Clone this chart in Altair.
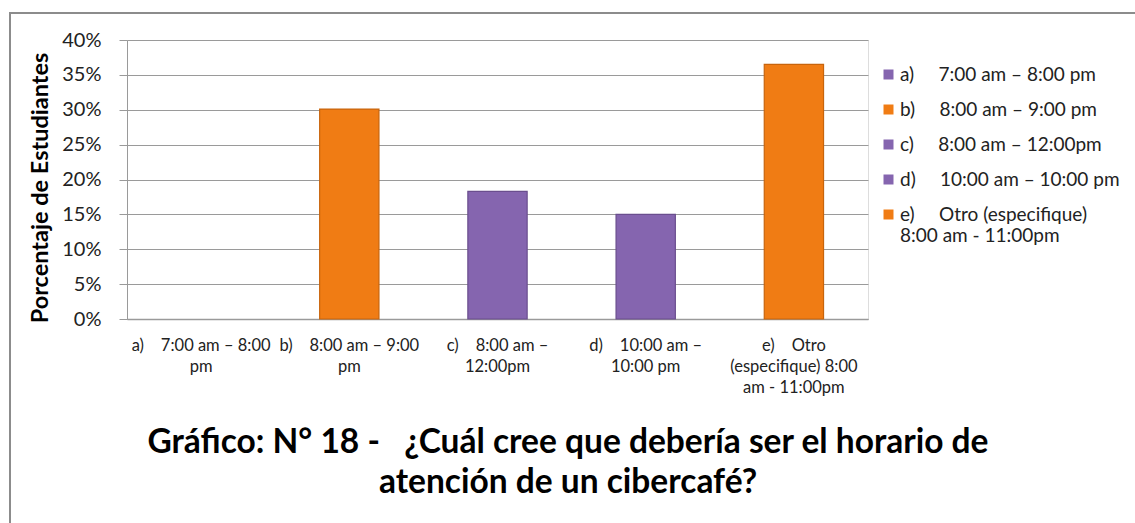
import altair as alt
import pandas as pd
import json

NB = "\u00a0"
keys = ["a", "b", "c", "d", "e"]
values = [0.0, 30.1, 18.3, 15.0, 36.5]
colors = ["#8565AF", "#F07C14", "#8565AF", "#8565AF", "#F07C14"]
edge_colors = ["#6A4E8E", "#C8640C", "#6A4E8E", "#6A4E8E", "#C8640C"]
axis_labels = [
    ["a)" + NB * 4 + "7:00 am – 8:00", "pm"],
    ["b)" + NB * 4 + "8:00 am – 9:00", "pm"],
    ["c)" + NB * 4 + "8:00 am –", "12:00pm"],
    ["d)" + NB * 4 + "10:00 am –", "10:00" + NB + "pm"],
    ["e)" + NB * 4 + "Otro", "(especifique) 8:00", "am - 11:00pm"],
]
legend_labels = [
    ["a)" + NB * 5 + "7:00 am – 8:00 pm"],
    ["b)" + NB * 5 + "8:00 am – 9:00 pm"],
    ["c)" + NB * 5 + "8:00 am – 12:00pm"],
    ["d)" + NB * 5 + "10:00 am – 10:00 pm"],
    ["e)" + NB * 5 + "Otro (especifique)", "8:00 am - 11:00pm"],
]
y_ticks = [0, 5, 10, 15, 20, 25, 30, 35, 40]
y_title = "Porcentaje de Estudiantes"
title_lines = ["Gráfico: N° 18 -" + NB * 3 + "¿Cuál cree que debería ser el horario de",
               "atención de un cibercafé?"]

df = pd.DataFrame({"key": keys, "value": values})

axis_map = json.dumps(dict(zip(keys, axis_labels)), ensure_ascii=False)
legend_map = json.dumps(dict(zip(keys, legend_labels)), ensure_ascii=False)

FONT = "Lato"
W, H = 741, 279
PL, PT = 127, 40

one = alt.Data(values=[{"k": 1}])

border = alt.Chart(one).mark_rect(
    fillOpacity=0, stroke="#8C8C8C", strokeWidth=2
).encode(
    x=alt.value(10 - PL), y=alt.value(13 - PT),
    x2=alt.value(1145 - PL), y2=alt.value(535 - PT)
)

title = alt.Chart(one).mark_text(
    font=FONT, fontSize=33.5, fontWeight="bold", color="#000",
    lineHeight=40, align="center", baseline="middle"
).encode(
    x=alt.value(568 - PL), y=alt.value(443 - PT), text=alt.value(title_lines)
)

bars = alt.Chart(df).mark_bar(strokeWidth=1.2).encode(
    x=alt.X("key:N", sort=keys,
            scale=alt.Scale(domain=keys, paddingInner=0.6, paddingOuter=0.3),
            axis=alt.Axis(title=None, labelAngle=0, ticks=False,
                          labelExpr=f"{axis_map}[datum.value]",
                          labelFont=FONT, labelFontSize=16.5, labelColor="#222",
                          labelLineHeight=21, labelPadding=18, labelBaseline="top",
                          domainColor="#9A9A9A", domainWidth=1.5, grid=False)),
    y=alt.Y("value:Q", scale=alt.Scale(domain=[0, 40], nice=False),
            axis=alt.Axis(values=y_ticks, labelExpr="datum.value + '%'",
                          title=y_title, titleFont=FONT, titleFontSize=23.5,
                          titleFontWeight="bold", titleColor="#000",
                          titleX=-87, titleY=H / 2 + 8, titleAngle=270,
                          titleBaseline="middle", titleAlign="center",
                          labelFont=FONT, labelFontSize=20, labelColor="#222",
                          labelPadding=18, tickSize=8, tickColor="#9A9A9A",
                          domainColor="#9A9A9A", gridColor="#9A9A9A",
                          gridWidth=1, domainWidth=1)),
    color=alt.Color("key:N", scale=alt.Scale(domain=keys, range=colors),
                    legend=alt.Legend(title=None, orient="none",
                                      legendX=752, legendY=25,
                                      symbolType="square", symbolSize=100,
                                      symbolStrokeWidth=0,
                                      labelExpr=f"{legend_map}[datum.value]",
                                      labelFont=FONT, labelFontSize=19,
                                      labelColor="#222", labelOffset=2,
                                      labelLimit=400, rowPadding=15)),
    stroke=alt.condition(
        "datum.value > 0",
        alt.Stroke("key:N", scale=alt.Scale(domain=keys, range=edge_colors), legend=None),
        alt.value("transparent"),
    ),
)

chart = alt.layer(border, bars, title).properties(
    width=W, height=H,
    autosize=alt.AutoSizeParams(type="none"),
    padding={"left": PL, "top": PT, "right": 1135 - PL - W, "bottom": 523 - PT - H},
).configure_view(stroke=None).configure(background="white")

chart.save("out.html", embed_options={"renderer": "svg", "actions": False})
